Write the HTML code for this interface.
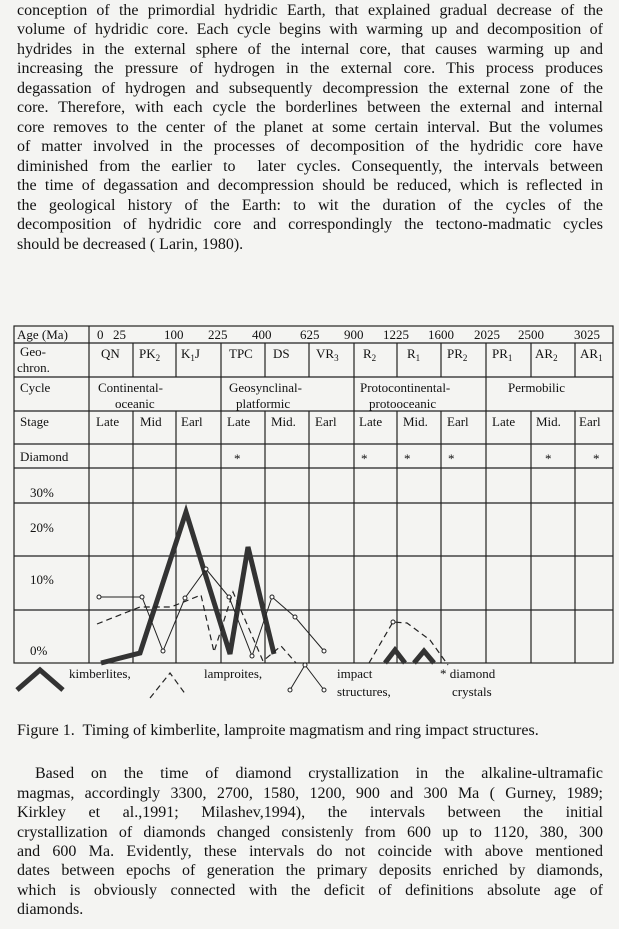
<!DOCTYPE html>
<html><head><meta charset="utf-8"><style>
body{margin:0;background:#f4f4f2;width:619px;height:929px;overflow:hidden;position:relative;font-family:"Liberation Serif",serif;color:#111}
.l{position:absolute;left:17px;width:586px;font-size:16px;line-height:19px;white-space:nowrap;text-align:justify;text-align-last:justify}
.n{text-align-last:left}
svg{position:absolute;left:0;top:0}
svg text{font-family:"Liberation Serif",serif;font-size:13px;fill:#111}
</style></head><body>
<div class="l" style="top:1px">conception of the primordial hydridic Earth, that explained gradual decrease of the</div>
<div class="l" style="top:20px">volume of hydridic core. Each cycle begins with warming up and decomposition of</div>
<div class="l" style="top:40px">hydrides in the external sphere of the internal core, that causes warming up and</div>
<div class="l" style="top:59px">increasing the pressure of hydrogen in the external core. This process produces</div>
<div class="l" style="top:79px">degassation of hydrogen and subsequently decompression the external zone of the</div>
<div class="l" style="top:98px">core. Therefore, with each cycle the borderlines between the external and internal</div>
<div class="l" style="top:118px">core removes to the center of the planet at some certain interval. But the volumes</div>
<div class="l" style="top:137px">of matter involved in the processes of decomposition of the hydridic core have</div>
<div class="l" style="top:157px">diminished from the earlier to&nbsp; later cycles. Consequently, the intervals between</div>
<div class="l" style="top:176px">the time of degassation and decompression should be reduced, which is reflected in</div>
<div class="l" style="top:196px">the geological history of the Earth: to wit the duration of the cycles of the</div>
<div class="l" style="top:215px">decomposition of hydridic core and correspondingly the tectono-madmatic cycles</div>
<div class="l n" style="top:235px">should be decreased ( Larin, 1980).</div>

<svg width="619" height="929" viewBox="0 0 619 929">
<g stroke="#222" stroke-width="1.2" fill="none">
<rect x="14" y="326" width="599" height="337"/>
<line x1="89" y1="326" x2="89" y2="663"/>
<line x1="14" y1="343" x2="613" y2="343"/>
<line x1="14" y1="377" x2="613" y2="377"/>
<line x1="14" y1="411" x2="613" y2="411"/>
<line x1="14" y1="444" x2="613" y2="444"/>
<line x1="14" y1="468" x2="613" y2="468"/>
<line x1="14" y1="503" x2="613" y2="503"/>
<line x1="14" y1="556" x2="613" y2="556"/>
<line x1="14" y1="610" x2="613" y2="610"/>
<line x1="221" y1="343" x2="221" y2="663"/>
<line x1="354" y1="343" x2="354" y2="663"/>
<line x1="486" y1="343" x2="486" y2="663"/>
<line x1="133" y1="343" x2="133" y2="377"/><line x1="133" y1="411" x2="133" y2="663"/>
<line x1="176" y1="343" x2="176" y2="377"/><line x1="176" y1="411" x2="176" y2="663"/>
<line x1="265" y1="343" x2="265" y2="377"/><line x1="265" y1="411" x2="265" y2="663"/>
<line x1="309" y1="343" x2="309" y2="377"/><line x1="309" y1="411" x2="309" y2="663"/>
<line x1="397" y1="343" x2="397" y2="377"/><line x1="397" y1="411" x2="397" y2="663"/>
<line x1="441" y1="343" x2="441" y2="377"/><line x1="441" y1="411" x2="441" y2="663"/>
<line x1="531" y1="343" x2="531" y2="377"/><line x1="531" y1="411" x2="531" y2="663"/>
<line x1="575" y1="343" x2="575" y2="377"/><line x1="575" y1="411" x2="575" y2="663"/>
</g>
<text x="17" y="339">Age (Ma)</text>
<g>
<text x="97" y="339">0</text><text x="113" y="339">25</text><text x="164" y="339">100</text><text x="208" y="339">225</text><text x="252" y="339">400</text><text x="300" y="339">625</text><text x="344" y="339">900</text><text x="383" y="339">1225</text><text x="428" y="339">1600</text><text x="474" y="339">2025</text><text x="518" y="339">2500</text><text x="574" y="339">3025</text>
</g>
<text x="20" y="356">Geo-</text><text x="17" y="372">chron.</text>
<text x="101" y="358">QN</text><text x="139" y="358">PK<tspan font-size="9" dy="3">2</tspan></text><text x="181" y="358">K<tspan font-size="9" dy="3">1</tspan><tspan dy="-3">J</tspan></text>
<text x="229" y="358">TPC</text><text x="273" y="358">DS</text><text x="316" y="358">VR<tspan font-size="9" dy="3">3</tspan></text>
<text x="363" y="358">R<tspan font-size="9" dy="3">2</tspan></text><text x="407" y="358">R<tspan font-size="9" dy="3">1</tspan></text><text x="447" y="358">PR<tspan font-size="9" dy="3">2</tspan></text>
<text x="492" y="358">PR<tspan font-size="9" dy="3">1</tspan></text><text x="535" y="358">AR<tspan font-size="9" dy="3">2</tspan></text><text x="580" y="358">AR<tspan font-size="9" dy="3">1</tspan></text>
<text x="20" y="392">Cycle</text>
<text x="98" y="392">Continental-</text><text x="115" y="408">oceanic</text>
<text x="229" y="392">Geosynclinal-</text><text x="236" y="408">platformic</text>
<text x="360" y="392">Protocontinental-</text><text x="369" y="408">protooceanic</text>
<text x="508" y="392">Permobilic</text>
<text x="20" y="426">Stage</text>
<text x="96" y="426">Late</text><text x="140" y="426">Mid</text><text x="181" y="426">Earl</text><text x="227" y="426">Late</text><text x="271" y="426">Mid.</text><text x="315" y="426">Earl</text>
<text x="359" y="426">Late</text><text x="403" y="426">Mid.</text><text x="447" y="426">Earl</text><text x="492" y="426">Late</text><text x="536" y="426">Mid.</text><text x="579" y="426">Earl</text>
<text x="20" y="461">Diamond</text>
<g font-size="11"><text x="234" y="463">*</text><text x="361" y="463">*</text><text x="404" y="463">*</text><text x="448" y="463">*</text><text x="545" y="463">*</text><text x="593" y="463">*</text></g>
<text x="30" y="497">30%</text><text x="30" y="532">20%</text><text x="30" y="584">10%</text><text x="30" y="655">0%</text>
<g fill="none" stroke="#333" stroke-width="5" stroke-linejoin="miter">
<polyline points="101,663 140,653 186,512 230,654 248,547 274,654"/>
<polyline points="385,663 395,650 405,663"/>
<polyline points="414,663 424,651 434,663"/>
<polyline points="17,690 40,670 63,690"/>
</g>
<g fill="none" stroke="#222" stroke-width="1">
<polyline points="99,597 142,597 163,651 185,598 206,569 229,597 252,656 272,597 295,617 324,651"/>
<polyline points="290,690 305,665 324,690"/>
</g>
<g fill="#fff" stroke="#222" stroke-width="1">
<circle cx="99" cy="597" r="2"/><circle cx="142" cy="597" r="2"/><circle cx="163" cy="651" r="2"/><circle cx="185" cy="598" r="2"/><circle cx="206" cy="569" r="2"/><circle cx="229" cy="597" r="2"/><circle cx="252" cy="656" r="2"/><circle cx="272" cy="597" r="2"/><circle cx="295" cy="617" r="2"/><circle cx="324" cy="651" r="2"/>
<circle cx="290" cy="690" r="2"/><circle cx="305" cy="665" r="2"/><circle cx="324" cy="690" r="2"/><circle cx="393" cy="622" r="2"/>
</g>
<g fill="none" stroke="#222" stroke-width="1.2" stroke-dasharray="6,4">
<polyline points="97,624 140,607 171,607 201,595 214,652 233,592 263,661 281,646 296,663"/>
<polyline points="369,663 393,622 407,623 430,640 448,665"/>
<polyline points="150,698 170,673 186,695"/>
</g>
<text x="69" y="678">kimberlites,</text>
<text x="204" y="678">lamproites,</text>
<text x="337" y="678">impact</text><text x="337" y="696">structures,</text>
<text x="440" y="678">* diamond</text><text x="452" y="696">crystals</text>
</svg>

<div class="l n" style="top:721px">Figure 1.&nbsp; Timing of kimberlite, lamproite magmatism and ring impact structures.</div>
<div class="l" style="top:764px;left:35px;width:568px">Based on the time of diamond crystallization in the alkaline-ultramafic</div>
<div class="l" style="top:784px">magmas, accordingly 3300, 2700, 1580, 1200, 900 and 300 Ma ( Gurney, 1989;</div>
<div class="l" style="top:803px">Kirkley et al.,1991; Milashev,1994), the intervals between the initial</div>
<div class="l" style="top:823px">crystallization of diamonds changed consistenly from 600 up to 1120, 380, 300</div>
<div class="l" style="top:842px">and 600 Ma. Evidently, these intervals do not coincide with above mentioned</div>
<div class="l" style="top:861px">dates between epochs of generation the primary deposits enriched by diamonds,</div>
<div class="l" style="top:881px">which is obviously connected with the deficit of definitions absolute age of</div>
<div class="l n" style="top:900px">diamonds.</div>
</body></html>
